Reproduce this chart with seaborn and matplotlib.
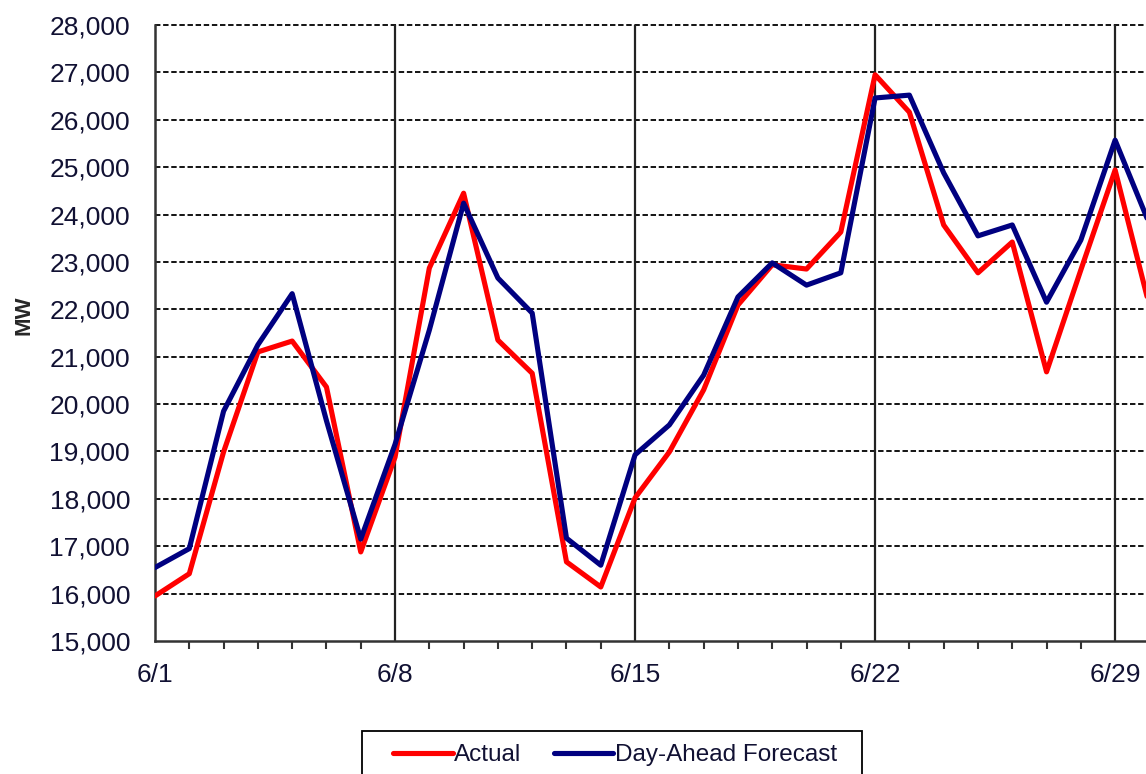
import matplotlib
matplotlib.use("Agg")
import matplotlib.pyplot as plt
import seaborn as sns
import pandas as pd
import numpy as np
from matplotlib.ticker import MultipleLocator, FuncFormatter
from matplotlib.patches import Rectangle

days = list(range(1, 31))
actual = [15950, 16420, 18990, 21100, 21330, 20360, 16880, 18880, 22870, 24450,
          21350, 20650, 16670, 16140, 18020, 18990, 20300, 22090, 22940, 22850,
          23630, 26950, 26160, 23780, 22770, 23420, 20680, 22830, 24940, 22070]
forecast = [16550, 16950, 19850, 21250, 22330, 19650, 17150, 19150, 21560, 24240,
            22660, 21920, 17170, 16600, 18930, 19560, 20610, 22260, 22980, 22510,
            22770, 26460, 26520, 24880, 23550, 23780, 22150, 23460, 25570, 23800]
series_names = ["Actual", "Day-Ahead Forecast"]
major_days = [1, 8, 15, 22, 29]
major_labels = ["6/1", "6/8", "6/15", "6/22", "6/29"]
y_ticks = list(range(15000, 28001, 1000))

df = pd.DataFrame({
    "day": days * 2,
    "MW": actual + forecast,
    "series": [series_names[0]] * len(days) + [series_names[1]] * len(days),
})

sns.set_theme(style="white")
plt.rcParams["font.family"] = ["Liberation Sans", "DejaVu Sans"]

W, H = 1146, 774
fig = plt.figure(figsize=(W / 100, H / 100), dpi=100)
ax = fig.add_axes([155 / W, 1 - 641 / H, 1 - 155 / W, 616 / H])

sns.lineplot(data=df, x="day", y="MW", hue="series",
             palette={"Actual": "#FF0000", "Day-Ahead Forecast": "#000080"},
             linewidth=3.7, ax=ax, legend=False, zorder=3)

ax.set_xlim(1, 1 + (W - 155) / 34.29)
ax.set_ylim(15000, 28000)
ax.set_yticks(y_ticks)
ax.yaxis.set_major_formatter(FuncFormatter(lambda v, p: f"{int(v):,}"))
ax.set_xticks(major_days)
ax.set_xticklabels(major_labels)
ax.xaxis.set_minor_locator(MultipleLocator(1))

for y in y_ticks[1:]:
    ax.axhline(y, color="black", linestyle=(0, (3, 1.5)), linewidth=1.3,
               zorder=1, clip_on=False)
for x in major_days[1:]:
    ax.axvline(x, color="#222222", linestyle="-", linewidth=1.6, zorder=1)

for s in ["top", "right"]:
    ax.spines[s].set_visible(False)
for s in ["left", "bottom"]:
    ax.spines[s].set_color("#333333")
    ax.spines[s].set_linewidth(1.8)

ax.tick_params(axis="both", which="both", direction="out", color="#333333",
               width=1.5, labelsize=19, labelcolor="#111133")
ax.tick_params(axis="y", which="major", length=6, pad=12)
ax.tick_params(axis="x", which="major", length=7, pad=9)
ax.tick_params(axis="x", which="minor", length=6, bottom=True)

ax.set_xlabel("")
ax.set_ylabel("MW", fontsize=16, fontweight="bold")
ax.yaxis.set_label_coords((34 - 155) / 991, (641 - 315) / 616)

# legend box (Excel-style, running off the bottom edge)
fig.patches.append(Rectangle((362 / W, 1 - 800 / H), 500 / W, 69 / H,
                             transform=fig.transFigure, fill=False,
                             edgecolor="black", linewidth=1.3, zorder=5))
handles = [plt.Line2D([], [], color="#FF0000", linewidth=3.7),
           plt.Line2D([], [], color="#000080", linewidth=3.7)]
leg = fig.legend(handles, series_names, loc="center left",
                 bbox_to_anchor=(393 / W, 1 - 755 / H),
                 bbox_transform=fig.transFigure, ncol=2, fontsize=17.5,
                 frameon=False, handlelength=2.45, handletextpad=0.05,
                 columnspacing=1.35, borderpad=0, borderaxespad=0)
for t in leg.get_texts():
    t.set_color("#111133")

fig.savefig("out.png", dpi=100)
